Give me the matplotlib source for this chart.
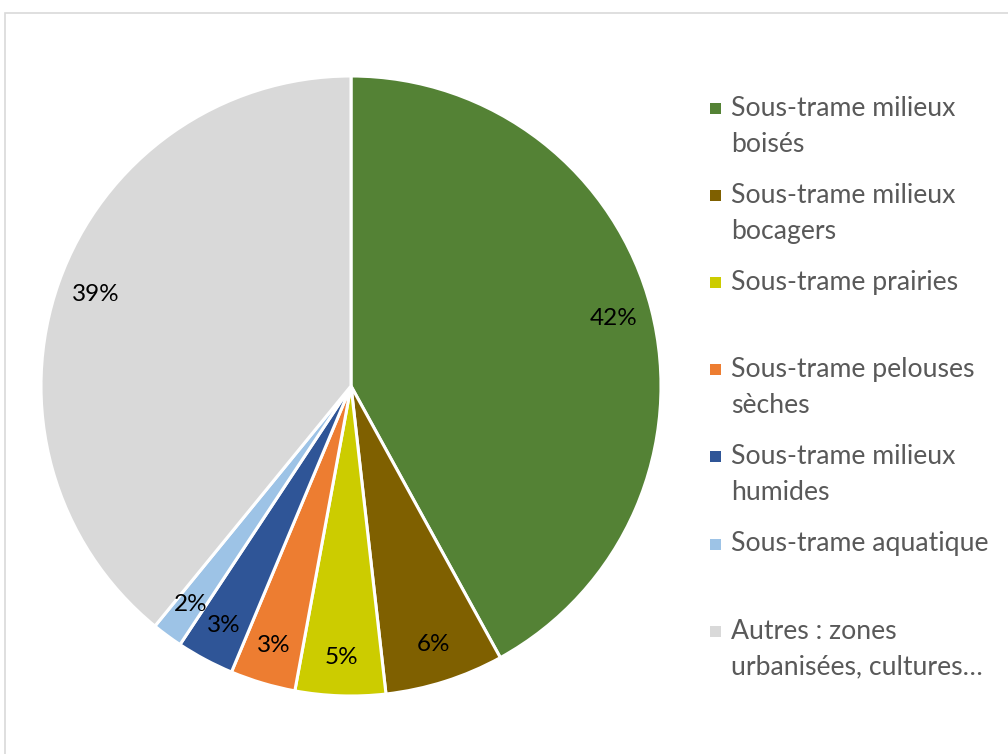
import matplotlib.pyplot as plt
from matplotlib.patches import Rectangle

# slice shares (%), read clockwise from 12 o'clock
labels = [
    "Sous-trame milieux\nboisés",
    "Sous-trame milieux\nbocagers",
    "Sous-trame prairies",
    "Sous-trame pelouses\nsèches",
    "Sous-trame milieux\nhumides",
    "Sous-trame aquatique",
    "Autres : zones\nurbanisées, cultures…",
]
values = [42.0, 6.2, 4.7, 3.4, 3.0, 1.6, 39.1]
colors = ["#548235", "#7F6000", "#CCCC00", "#ED7D31", "#2F5597", "#9DC3E6", "#D9D9D9"]

W, H = 1008, 754
plt.rcParams['font.family'] = ['Lato', 'DejaVu Sans']
fig = plt.figure(figsize=(W / 100, H / 100), dpi=100)

# light frame around the chart area (runs off right and bottom)
fig.patches.append(Rectangle((5 / W, -0.01), 1.1, (H - 13) / H + 0.01,
                             transform=fig.transFigure, fill=False,
                             edgecolor="#D9D9D9", linewidth=1.2))

cx, cy, r = 351, 386, 310
ax = fig.add_axes([(cx - r) / W, (H - cy - r) / H, 2 * r / W, 2 * r / H])
wedges, _, pcts = ax.pie(values, colors=colors, startangle=90, counterclock=False,
                         autopct="%.0f%%", pctdistance=0.875,
                         wedgeprops=dict(edgecolor="white", linewidth=2.2),
                         textprops=dict(fontsize=17.5, color="black"))
ax.set_xlim(-1, 1)
ax.set_ylim(-1, 1)
ax.set_aspect("equal")
ax.axis("off")

# legend drawn by hand to keep Excel's two-line slots
for k, (lab, col) in enumerate(zip(labels, colors)):
    y0 = 108 + k * 87.2
    fig.patches.append(Rectangle(((715 - 5.5) / W, (H - y0 - 5.5) / H), 11 / W, 11 / H,
                                 transform=fig.transFigure, facecolor=col,
                                 edgecolor="none"))
    for i, line in enumerate(lab.split("\n")):
        fig.text(731 / W, (H - y0 - i * 36) / H, line, fontsize=19.2,
                 color="#595959", va="center", ha="left")

fig.savefig("out.png", dpi=100)
